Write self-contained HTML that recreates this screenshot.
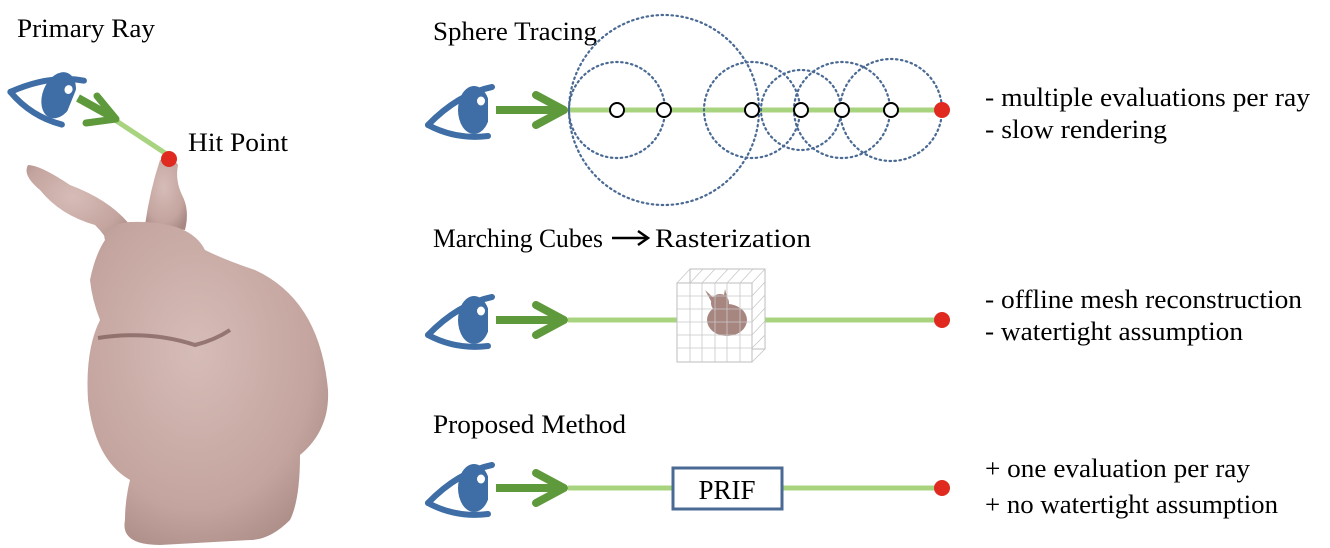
<!DOCTYPE html>
<html><head><style>
body{margin:0;background:#fff;}
svg{display:block;}
text{font-family:"Liberation Serif",serif;fill:#000;}
</style></head><body>
<svg width="1330" height="548" viewBox="0 0 1330 548" xmlns="http://www.w3.org/2000/svg">
<defs>
<clipPath id="ic"><rect x="20" y="-30" width="40" height="60"/></clipPath>
<g id="eye">
  <path d="M0,15 Q30,-16 64,-23" stroke="#3e6ea5" stroke-width="6" fill="none" stroke-linecap="round"/>
  <path d="M0,15 Q28,30 60,26" stroke="#3e6ea5" stroke-width="6" fill="none" stroke-linecap="round"/>
  <ellipse cx="46" cy="0" rx="16" ry="24" fill="#3e6ea5" clip-path="url(#ic)"/>
  <ellipse cx="53" cy="-9" rx="4" ry="4.5" fill="#fff"/>
</g>
<g id="arr">
  <line x1="68" y1="0" x2="130" y2="0" stroke="#5e9a3c" stroke-width="8"/>
  <polyline points="108,-15 136,0 108,15" stroke="#5e9a3c" stroke-width="8" fill="none" stroke-linecap="round" stroke-linejoin="round"/>
</g>
<radialGradient id="bg" cx="0.45" cy="0.4" r="0.7">
  <stop offset="0" stop-color="#d6bcb7"/><stop offset="0.7" stop-color="#c4a49e"/><stop offset="1" stop-color="#a88883"/>
</radialGradient>
</defs>

<!-- left bunny -->
<text x="17" y="37" font-size="26" textLength="138" lengthAdjust="spacingAndGlyphs">Primary Ray</text>
<text x="188" y="151" font-size="26" textLength="100" lengthAdjust="spacingAndGlyphs">Hit Point</text>
<g transform="translate(16,78) rotate(22)">
  <use href="#eye"/>
</g>
<line x1="112" y1="118" x2="168" y2="155" stroke="#a8d37f" stroke-width="5"/>
<line x1="78" y1="98" x2="114" y2="118" stroke="#5e9a3c" stroke-width="8"/>
<polyline points="97,96 116,119 86,123" stroke="#5e9a3c" stroke-width="7" fill="none" stroke-linecap="round" stroke-linejoin="round"/>
<g fill="url(#bg)">
  <path d="M28,165 Q22,175 40,190 Q60,215 95,225 Q105,235 110,245 L130,225 Q110,200 70,185 Q40,165 28,165Z"/>
  <path d="M160,160 Q150,190 145,225 L185,230 Q190,210 182,195 Q175,180 178,165 Q172,155 160,160Z"/>
  <path d="M105,240 Q100,225 130,222 Q190,220 205,250 Q225,260 255,270 Q320,300 328,390 Q330,430 300,455 Q300,500 290,520 Q270,540 250,540 L160,545 Q120,545 125,520 Q125,500 130,480 Q95,460 88,400 Q85,350 100,320 Q92,300 90,280 Q95,255 105,240Z"/>
</g>
<path d="M98,338 Q150,330 195,345 Q215,340 230,330" stroke="#7a5a55" stroke-width="4" fill="none" opacity="0.7"/>
<circle cx="169" cy="159" r="8" fill="#e02a20"/>

<!-- Sphere tracing -->
<text x="433" y="40" font-size="26" textLength="164" lengthAdjust="spacingAndGlyphs">Sphere Tracing</text>
<use href="#eye" x="428" y="110"/>
<use href="#arr" x="428" y="110"/>
<line x1="568" y1="110" x2="942" y2="110" stroke="#a8d37f" stroke-width="5"/>
<g fill="none" stroke="#4a6a94" stroke-width="2.2" stroke-dasharray="1.5,3.5" stroke-linecap="round">
  <circle cx="664" cy="110" r="95"/>
  <circle cx="617" cy="110" r="48"/>
  <circle cx="752" cy="110" r="48"/>
  <circle cx="801" cy="110" r="40"/>
  <circle cx="842" cy="110" r="48"/>
  <circle cx="891" cy="110" r="51"/>
</g>
<g fill="#fff" stroke="#000" stroke-width="2">
  <circle cx="617" cy="110" r="7"/><circle cx="664" cy="110" r="7"/><circle cx="752" cy="110" r="7"/>
  <circle cx="801" cy="110" r="7"/><circle cx="842" cy="110" r="7"/><circle cx="891" cy="110" r="7"/>
</g>
<circle cx="942" cy="110" r="8" fill="#e02a20"/>
<text x="985" y="106" font-size="26" textLength="325" lengthAdjust="spacingAndGlyphs">-  multiple evaluations per ray</text>
<text x="985" y="138" font-size="26" textLength="182" lengthAdjust="spacingAndGlyphs">-  slow rendering</text>

<!-- Marching cubes -->
<text x="433" y="247" font-size="26" textLength="170" lengthAdjust="spacingAndGlyphs">Marching Cubes</text>
<line x1="612" y1="238" x2="646" y2="238" stroke="#000" stroke-width="2.5"/>
<polyline points="638,231 648,238 638,245" stroke="#000" stroke-width="2.5" fill="none"/>
<text x="655" y="247" font-size="26" textLength="156" lengthAdjust="spacingAndGlyphs">Rasterization</text>
<use href="#eye" x="428" y="320"/>
<use href="#arr" x="428" y="320"/>
<line x1="568" y1="320" x2="942" y2="320" stroke="#a8d37f" stroke-width="5"/>
<g stroke="#bdbdbd" stroke-width="1" fill="#fff">
  <rect x="690" y="269" width="75" height="80"/>
  <rect x="677" y="283" width="75" height="79"/>
</g>
<g fill="#a88680">
  <ellipse cx="727" cy="320" rx="20" ry="16"/>
  <circle cx="720" cy="303" r="9"/>
  <path d="M705,290 L716,300 L712,303Z M725,289 L723,301 L728,300Z"/>
</g>
<g stroke="#c8c8c8" stroke-width="0.8" fill="none">
  <path d="M677,296 H752 M677,309 H752 M677,322 H752 M677,335 H752 M677,348 H752"/>
  <path d="M690,283 V362 M702,283 V362 M715,283 V362 M727,283 V362 M740,283 V362"/>
  <path d="M752,283 L765,269 M752,362 L765,349 M677,283 L690,269 M690,283 L703,269 M702,283 L715,269 M715,283 L728,269 M727,283 L740,269 M740,283 L753,269"/>
  <path d="M752,296 L765,282 M752,309 L765,295 M752,322 L765,308 M752,335 L765,321 M752,348 L765,335"/>
</g>
<circle cx="942" cy="320" r="8" fill="#e02a20"/>
<text x="985" y="308" font-size="26" textLength="317" lengthAdjust="spacingAndGlyphs">-  offline mesh reconstruction</text>
<text x="985" y="340" font-size="26" textLength="258" lengthAdjust="spacingAndGlyphs">-  watertight assumption</text>

<!-- Proposed -->
<text x="433" y="433" font-size="26" textLength="193" lengthAdjust="spacingAndGlyphs">Proposed Method</text>
<use href="#eye" x="428" y="488"/>
<use href="#arr" x="428" y="488"/>
<line x1="568" y1="488" x2="942" y2="488" stroke="#a8d37f" stroke-width="5"/>
<rect x="673" y="468" width="109" height="41" fill="#fff" stroke="#4a6a94" stroke-width="3"/>
<text x="727" y="499" font-size="27" text-anchor="middle">PRIF</text>
<circle cx="942" cy="488" r="8" fill="#e02a20"/>
<text x="985" y="477" font-size="26" textLength="265" lengthAdjust="spacingAndGlyphs">+ one evaluation per ray</text>
<text x="985" y="513" font-size="26" textLength="293" lengthAdjust="spacingAndGlyphs">+ no watertight assumption</text>
</svg>
</body></html>
